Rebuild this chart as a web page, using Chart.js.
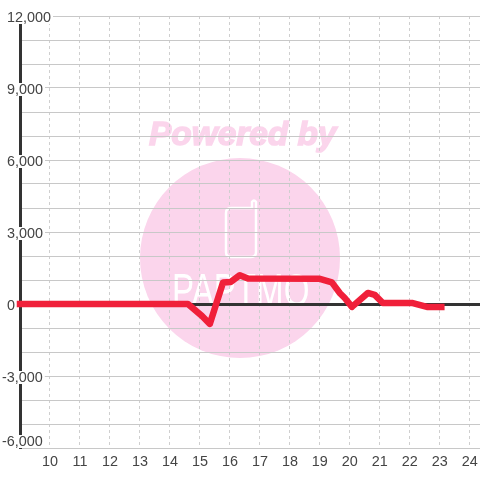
<!DOCTYPE html>
<html>
<head>
<meta charset="utf-8">
<script src="https://cdn.jsdelivr.net/npm/chart.js@4"></script>
<style>
  html, body { margin: 0; padding: 0; background: #fff; }
  canvas { display: block; }
</style>
</head>
<body>
<canvas id="chart" width="480" height="480"></canvas>
<script>
const hours = [9, 14.6, 15.07, 15.33, 15.77, 16.03, 16.33, 16.6, 19, 19.4, 19.67, 19.83, 20.07, 20.6, 20.83, 21.1, 22.1, 22.57, 23.05]
const values = [0, 0, -500, -830, 900, 920, 1200, 1060, 1050, 900, 450, 250, -120, 460, 380, 40, 40, -120, -120]
const xTicks = [10, 11, 12, 13, 14, 15, 16, 17, 18, 19, 20, 21, 22, 23, 24]
const yLabels = [12000, 9000, 6000, 3000, 0, -3000, -6000]

const font = '"Liberation Sans", Arial, sans-serif'
const textColor = '#444'
const gridColor = '#c8c8c8'
const axisColor = '#333'

// pink logo behind the grid
const watermark = {
  id: 'watermark',
  beforeDraw(chart) {
    const c = chart.ctx
    c.save()
    c.fillStyle = '#fbd5ec'
    c.strokeStyle = '#fbd5ec'
    c.font = 'italic bold 33.4px ' + font
    c.textBaseline = 'alphabetic'
    c.lineWidth = 1.5
    c.fillText('Powered by', 149, 145)
    c.strokeText('Powered by', 149, 145)
    c.beginPath()
    c.arc(240, 258, 100, 0, Math.PI * 2)
    c.fill()
    // phone
    c.strokeStyle = '#fff'
    c.lineWidth = 2.5
    c.lineJoin = 'round'
    c.beginPath()
    c.moveTo(252, 208)
    c.lineTo(231, 208)
    c.quadraticCurveTo(226, 208, 226, 213)
    c.lineTo(226, 252)
    c.quadraticCurveTo(226, 257, 231, 257)
    c.lineTo(251, 257)
    c.quadraticCurveTo(256, 257, 256, 252)
    c.lineTo(256, 202)
    c.quadraticCurveTo(254, 199, 252, 202)
    c.closePath()
    c.stroke()
    // brand name
    c.save()
    c.translate(172, 306)
    c.scale(0.72, 1)
    c.fillStyle = '#fff'
    c.font = '46px ' + font
    c.fillText('PAPTMO', 0, 0)
    c.restore()
    c.restore()
  }
}

// y labels sit left aligned over the axis, on a white box
const yLabelPlugin = {
  id: 'yLabelPlugin',
  beforeDatasetsDraw(chart) {
    const c = chart.ctx
    const y = chart.scales.y
    c.save()
    c.font = '14.4px ' + font
    c.textAlign = 'left'
    c.textBaseline = 'alphabetic'
    yLabels.forEach(v => {
      const text = v.toLocaleString('en-US')
      const w = c.measureText(text).width
      const py = Math.min(y.getPixelForValue(v), chart.chartArea.bottom - 8)
      const left = v < 0 ? 2 : 7
      c.fillStyle = '#fff'
      if (v !== 0) c.fillRect(left, py - 5, w + 2, 13)
      c.fillStyle = textColor
      c.fillText(text, left, py + 6)
    })
    c.restore()
  }
}

new Chart(document.getElementById('chart'), {
  type: 'line',
  data: {
    datasets: [{
      data: hours.map((h, i) => ({ x: h, y: values[i] })),
      borderColor: '#f0203a',
      borderWidth: 6.5,
      borderCapStyle: 'square',
      borderJoinStyle: 'round',
      pointRadius: 0,
      tension: 0,
      clip: false
    }]
  },
  options: {
    responsive: false,
    animation: false,
    layout: { padding: { left: 20, top: 16, right: 0, bottom: 0 } },
    plugins: { legend: { display: false }, tooltip: { enabled: false } },
    scales: {
      x: {
        type: 'linear',
        min: 9,
        max: 24.34,
        afterBuildTicks: scale => { scale.ticks = xTicks.map(value => ({ value })) },
        afterFit: scale => {
          scale.height = 32
          scale.paddingLeft = 0
          scale.paddingRight = 0
        },
        grid: { color: '#cfcfcf', lineWidth: 1, drawTicks: false },
        border: { display: false, dash: [3, 3] },
        ticks: {
          color: textColor,
          padding: 5,
          maxRotation: 0,
          autoSkip: false,
          font: { family: font, size: 14.4 }
        }
      },
      y: {
        min: -6000,
        max: 12000,
        ticks: { display: false, stepSize: 1000 },
        grid: {
          drawTicks: false,
          color: ctx => ctx.tick.value === 0 ? axisColor : gridColor,
          lineWidth: ctx => ctx.tick.value === 0 ? 3 : 1
        },
        border: { color: axisColor, width: 3 }
      }
    }
  },
  plugins: [watermark, yLabelPlugin]
})
</script>
</body>
</html>
